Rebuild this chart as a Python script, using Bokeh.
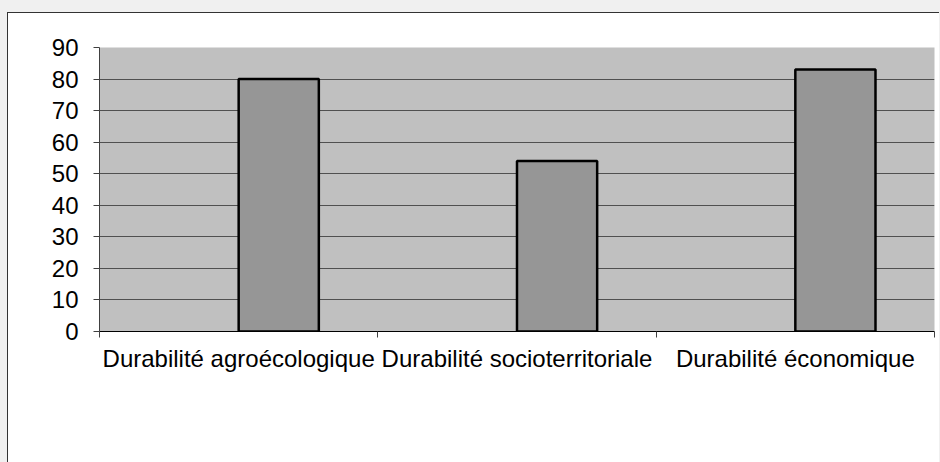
from bokeh.plotting import figure
from bokeh.models import Range1d, FixedTicker, ColumnDataSource
from bokeh.embed import file_html
from bokeh.resources import INLINE
import numpy as np

categories = ["Durabilité agroécologique", "Durabilité socioterritoriale", "Durabilité économique"]
values = [80, 54, 83]
y_ticks = [0, 10, 20, 30, 40, 50, 60, 70, 80, 90]

n = len(categories)
idx = np.arange(n)
centers = idx + 0.5
bar_w = 0.288
src = ColumnDataSource(dict(x=centers + bar_w / 2, top=values))

p = figure(output_backend="svg", toolbar_location=None,
           width=932, height=450,
           min_border_left=91, min_border_right=6, min_border_top=34, min_border_bottom=132,
           x_range=Range1d(0, n), y_range=Range1d(y_ticks[0], y_ticks[-1]))
p.styles = {"margin-top": "12px", "margin-left": "7px",
            "border-left": "1px solid #333333", "border-top": "1px solid #333333",
            "background-color": "white"}
p.background_fill_color = "#C0C0C0"
p.border_fill_color = "white"
p.outline_line_color = None

p.vbar(x="x", top="top", width=bar_w, bottom=0, source=src,
       fill_color="#969696", line_color="black", line_width=2.5)

FONT = "Liberation Sans"
FS = "24px"

# y axis
p.yaxis.ticker = FixedTicker(ticks=y_ticks)
p.yaxis.major_tick_out = 6
p.yaxis.major_tick_in = 0
p.yaxis.minor_tick_line_color = None
p.yaxis.axis_line_color = "#404040"
p.yaxis.major_tick_line_color = "#404040"
p.yaxis.major_label_text_font = FONT
p.yaxis.major_label_text_font_size = FS
p.yaxis.major_label_text_color = "black"
p.yaxis.major_label_standoff = 15

# x axis
p.xaxis.ticker = FixedTicker(ticks=list(centers), minor_ticks=list(np.arange(n + 1)))
p.xaxis.major_label_overrides = {float(c): lab for c, lab in zip(centers, categories)}
p.xaxis.major_tick_out = 0
p.xaxis.major_tick_in = 0
p.xaxis.minor_tick_out = 6
p.xaxis.minor_tick_in = 0
p.xaxis.minor_tick_line_color = "#404040"
p.xaxis.axis_line_color = "black"
p.xaxis.major_label_text_font = FONT
p.xaxis.major_label_text_font_size = FS
p.xaxis.major_label_text_color = "black"
p.xaxis.major_label_standoff = 7

# grid
p.xgrid.grid_line_color = None
p.ygrid.ticker = FixedTicker(ticks=y_ticks[1:-1])
p.ygrid.grid_line_color = "#505050"
p.ygrid.grid_line_width = 1

html = file_html(p, INLINE)
html = html.replace("</head>", "<style>html, body { background-color: #F0F0F0 !important; }</style></head>", 1)
open("out.html", "w").write(html)
